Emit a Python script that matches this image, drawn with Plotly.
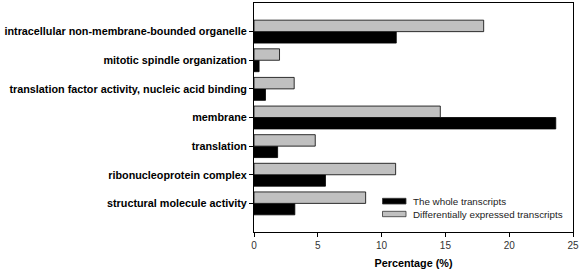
import plotly.graph_objects as go

categories = [
    "intracellular non-membrane-bounded organelle",
    "mitotic spindle organization",
    "translation factor activity, nucleic acid binding",
    "membrane",
    "translation",
    "ribonucleoprotein complex",
    "structural molecule activity",
]
whole_transcripts = [11.15, 0.4, 0.9, 23.65, 1.85, 5.6, 3.2]
diff_expressed = [18.0, 2.0, 3.15, 14.6, 4.8, 11.1, 8.75]
x_ticks = [0, 5, 10, 15, 20, 25]
series_names = ["The whole transcripts", "Differentially expressed transcripts"]
series_colors = ["#000000", "#c0c0c0"]

fig = go.Figure()
for name, vals, col in zip(series_names, [whole_transcripts, diff_expressed], series_colors):
    fig.add_trace(go.Bar(
        y=categories, x=vals, orientation="h", name=name,
        marker=dict(color=col, line=dict(color="#000000", width=0.8)),
        showlegend=False,
    ))

# plot-area geometry in pixels (for the hand-drawn legend)
L, R, T, B = 254, 573, 3, 232
W, H = R - L, B - T

def px(x):
    return (x - L) / W

def py(y):
    return (B - y) / H

swatch_rows = [(198.3, 204.0, 201.7), (211.3, 216.7, 214.3)]
for name, col, (y0, y1, yc) in zip(series_names, series_colors, swatch_rows):
    fig.add_shape(
        type="rect", xref="paper", yref="paper",
        x0=px(382.5), x1=px(406), y0=py(y1), y1=py(y0),
        fillcolor=col, line=dict(color="#333333", width=0.8),
    )
    fig.add_annotation(
        xref="paper", yref="paper", x=px(410.5), y=py(yc),
        text=name, showarrow=False, xanchor="left", yanchor="middle",
        font=dict(size=9.8, color="#222222"),
    )

fig.update_layout(
    width=581, height=271,
    margin=dict(l=L, r=581 - R, t=T, b=271 - B),
    paper_bgcolor="white", plot_bgcolor="white",
    barmode="group", bargap=0.2, bargroupgap=0,
    font=dict(family="Liberation Sans, Arial, sans-serif", color="#000000"),
    showlegend=False,
    xaxis=dict(
        range=[0, 25], tickvals=x_ticks, ticks="outside", ticklen=4,
        tickcolor="#000000", showgrid=False, zeroline=False,
        showline=True, linecolor="#000000", linewidth=1, mirror=True,
        tickfont=dict(size=10, color="#333333"),
        title=dict(text="<b>Percentage (%)</b>", font=dict(size=10.8), standoff=9),
        automargin=False,
    ),
    yaxis=dict(
        type="category", categoryorder="array",
        categoryarray=list(reversed(categories)),
        range=[-1, 7],
        ticks="outside", ticklen=4, tickcolor="#000000",
        showgrid=False, showline=True, linecolor="#000000", linewidth=1, mirror=True,
        tickfont=dict(size=10.8, color="#000000", weight="bold"),
        automargin=False,
    ),
)

fig.write_html(
    "out.html",
    config={"displayModeBar": False},
    post_script="document.body.style.margin='0';document.body.style.overflow='hidden';",
)
